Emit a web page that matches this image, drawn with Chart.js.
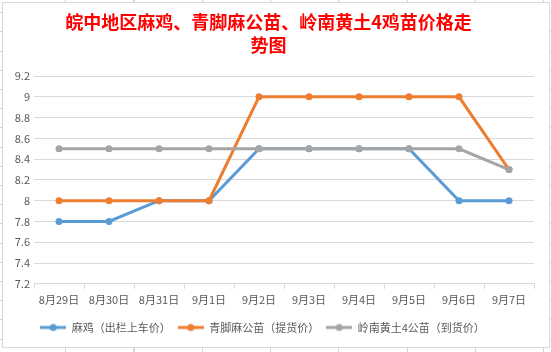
<!DOCTYPE html>
<html>
<head>
<meta charset="utf-8">
<script src="https://cdn.jsdelivr.net/npm/chart.js@4.4.1/dist/chart.umd.min.js"></script>
<style>
    html, body {
        margin: 0;
        padding: 0;
        width: 551px;
        height: 352px;
        overflow: hidden;
        background-color: #fff;
        background-image:
            repeating-linear-gradient(to right, transparent 0, transparent 67px, #d6d6d6 67px, #d6d6d6 68.3px),
            repeating-linear-gradient(to bottom, transparent 0, transparent 18.2px, #d6d6d6 18.2px, #d6d6d6 19.2px);
        background-position: -2px 13px, 0 -6px;
    }
    #box {
        position: absolute;
        left: 2px;
        top: 2px;
        width: 548px;
        height: 346px;
        box-sizing: border-box;
        border: 1px solid #d9d9d9;
        background: #fff;
    }
    canvas { display: block; }
</style>
</head>
<body>
<div id="box"><canvas id="grafico" width="546" height="344"></canvas></div>
<script>
// ==========================================================
// DATOS
// ==========================================================
const fechas = ['8月29日', '8月30日', '8月31日', '9月1日', '9月2日', '9月3日', '9月4日', '9月5日', '9月6日', '9月7日'];

const maJi      = [7.8, 7.8, 8.0, 8.0, 8.5, 8.5, 8.5, 8.5, 8.0, 8.0];
const qingJiao  = [8.0, 8.0, 8.0, 8.0, 9.0, 9.0, 9.0, 9.0, 9.0, 8.3];
const lingNan   = [8.5, 8.5, 8.5, 8.5, 8.5, 8.5, 8.5, 8.5, 8.5, 8.3];

const nombresSeries = ['麻鸡（出栏上车价）', '青脚麻公苗（提货价）', '岭南黄土4公苗（到货价）'];
const titulo = ['皖中地区麻鸡、青脚麻公苗、岭南黄土4鸡苗价格走', '势图'];

const colores = ['#5B9BD5', '#ED7D31', '#A5A5A5'];
const fuente = '"Microsoft YaHei", "Noto Sans CJK SC", "Noto Sans", sans-serif';

// marcador de leyenda: linea con punto
function marcador(color) {
    const c = document.createElement('canvas');
    c.width = 26;
    c.height = 10;
    const g = c.getContext('2d');
    g.strokeStyle = color;
    g.lineWidth = 3;
    g.beginPath();
    g.moveTo(0, 5);
    g.lineTo(26, 5);
    g.stroke();
    g.fillStyle = color;
    g.beginPath();
    g.arc(13, 5, 3.5, 0, Math.PI * 2);
    g.fill();
    return c;
}

function serie(label, data, i) {
    return {
        label: label,
        data: data,
        borderColor: colores[i],
        backgroundColor: colores[i],
        borderWidth: 3,
        pointRadius: 3.5,
        pointBorderWidth: 0,
        pointStyle: 'circle',
        tension: 0,
        order: 3 - i
    };
}

// mover la leyenda un poco a la izquierda (como en Excel)
const moverLeyenda = {
    id: 'moverLeyenda',
    afterLayout: function (chart) {
        if (chart.legend) {
            chart.legend.left -= 6;
            chart.legend.right -= 6;
        }
    }
};

// ==========================================================
// GRÁFICO
// ==========================================================
const ctx = document.getElementById('grafico').getContext('2d');
new Chart(ctx, {
    type: 'line',
    data: {
        labels: fechas,
        datasets: [
            serie(nombresSeries[0], maJi, 0),
            serie(nombresSeries[1], qingJiao, 1),
            serie(nombresSeries[2], lingNan, 2)
        ]
    },
    plugins: [moverLeyenda],
    options: {
        responsive: false,
        animation: false,
        layout: { padding: { left: 0, right: 15, top: 0, bottom: 4 } },
        plugins: {
            title: {
                display: true,
                text: titulo,
                color: '#FF0000',
                font: { family: fuente, size: 18, weight: 'bold', lineHeight: 1.28 },
                padding: { top: 8, bottom: 19 }
            },
            legend: {
                position: 'bottom',
                labels: {
                    usePointStyle: true,
                    pointStyleWidth: 26,
                    boxHeight: 10,
                    color: '#595959',
                    font: { family: fuente, size: 11 },
                    padding: 7,
                    generateLabels: function (chart) {
                        return chart.data.datasets.map(function (ds, i) {
                            return {
                                text: ds.label,
                                pointStyle: marcador(colores[i]),
                                fillStyle: colores[i],
                                strokeStyle: colores[i],
                                lineWidth: 0,
                                fontColor: '#595959',
                                datasetIndex: i
                            };
                        });
                    }
                }
            },
            tooltip: { enabled: false }
        },
        scales: {
            x: {
                offset: true,
                afterFit: function (s) { s.height += 5; },
                grid: {
                    offset: true,
                    drawOnChartArea: false,
                    drawTicks: true,
                    tickLength: 5,
                    color: '#d9d9d9'
                },
                border: { display: true, color: '#d9d9d9' },
                ticks: {
                    color: '#595959',
                    font: { family: fuente, size: 11 },
                    maxRotation: 0,
                    autoSkip: false,
                    padding: 4
                }
            },
            y: {
                min: 7.2,
                max: 9.2,
                afterFit: function (s) { s.width = 31; },
                grid: { color: '#d9d9d9', drawTicks: false },
                border: { display: false },
                ticks: {
                    stepSize: 0.2,
                    color: '#595959',
                    font: { family: fuente, size: 11 },
                    padding: 4,
                    callback: function (v) { return String(Number(v.toFixed(1))); }
                }
            }
        }
    }
});
</script>
</body>
</html>
